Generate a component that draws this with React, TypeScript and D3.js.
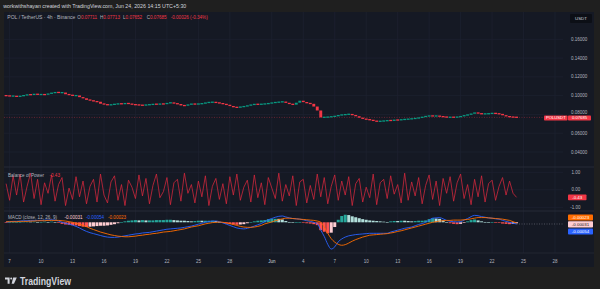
import React from 'react';
import * as d3 from 'd3';

const W = 600;
const H = 289;
const START = Date.UTC(2026, 4, 6, 16);
const STEP_MS = 8 * 3600 * 1000;

const firstOpen = 0.1001;
const closes = [
  0.0999, 0.0995, 0.0996, 0.0989, 0.0997, 0.1003, 0.1012, 0.1009, 0.1018, 0.1011,
  0.1013, 0.1010, 0.1023, 0.1028, 0.1037, 0.1031, 0.1033, 0.1015, 0.1008, 0.0999,
  0.1002, 0.0984, 0.0972, 0.0955, 0.0951, 0.0938, 0.0935, 0.0914, 0.0908, 0.0899,
  0.0906, 0.0909, 0.0915, 0.0912, 0.0919, 0.0914, 0.0905, 0.0903, 0.0899, 0.0897,
  0.0903, 0.0904, 0.0910, 0.0908, 0.0912, 0.0911, 0.0921, 0.0926, 0.0917, 0.0911,
  0.0896, 0.0893, 0.0907, 0.0912, 0.0909, 0.0913, 0.0916, 0.0926, 0.0929, 0.0931,
  0.0925, 0.0920, 0.0910, 0.0903, 0.0889, 0.0877, 0.0874, 0.0882, 0.0885, 0.0896,
  0.0903, 0.0910, 0.0906, 0.0911, 0.0912, 0.0919, 0.0924, 0.0930, 0.0931, 0.0937,
  0.0923, 0.0911, 0.0904, 0.0925, 0.0946, 0.0931, 0.0920, 0.0913, 0.0884, 0.0842,
  0.0768, 0.0771, 0.0772, 0.0778, 0.0781, 0.0793, 0.0796, 0.0800, 0.0803, 0.0794,
  0.0781, 0.0765, 0.0753, 0.0746, 0.0742, 0.0731, 0.0725, 0.0729, 0.0731, 0.0736,
  0.0735, 0.0741, 0.0740, 0.0746, 0.0747, 0.0752, 0.0754, 0.0760, 0.0764, 0.0775,
  0.0781, 0.0786, 0.0782, 0.0785, 0.0778, 0.0775, 0.0769, 0.0771, 0.0770, 0.0773,
  0.0781, 0.0791, 0.0797, 0.0809, 0.0820, 0.0810, 0.0805, 0.0807, 0.0808, 0.0814,
  0.0808, 0.0806, 0.0791, 0.0780, 0.0773, 0.0771, 0.07685,
];

const bop = [
  0.35, -0.6, 0.8, -0.3, 0.9, -0.7, 0.2, 0.95, -0.5, 0.6,
  -0.85, 0.4, -0.2, 0.85, -0.65, 0.3, 0.7, -0.9, 0.1, -0.55,
  0.75, -0.4, 0.5, -0.8, 0.2, 0.6, -0.7, 0.9, -0.3, -0.75,
  0.45, 0.8, -0.6, 0.3, -0.9, 0.55, 0.15, -0.5, 0.85, -0.35,
  0.65, -0.8, 0.25, 0.9, -0.45, -0.1, 0.7, -0.85, 0.4, 0.6,
  -0.65, 0.95, -0.2, 0.3, -0.75, 0.5, -0.4, 0.8, -0.9, 0.2,
  0.65, -0.55, 0.35, -0.8, 0.75, -0.3, 0.9, -0.6, 0.15, 0.55,
  -0.7, 0.85, -0.45, 0.4, -0.85, 0.7, 0.1, -0.5, 0.95, -0.65,
  0.3, -0.35, 0.8, -0.9, 0.45, 0.6, -0.75, 0.25, -0.55, 0.9,
  -0.4, 0.7, -0.8, 0.2, 0.85, -0.6, 0.5, -0.3, 0.75, -0.9,
  0.35, 0.65, -0.7, 0.15, -0.45, 0.9, -0.85, 0.4, 0.6, -0.5,
  0.8, -0.25, 0.3, -0.75, 0.95, -0.6, 0.45, -0.35, 0.7, -0.8,
  0.25, 0.85, -0.55, 0.5, -0.9, 0.65, -0.2, 0.75, -0.65, 0.4,
  0.9, -0.5, 0.3, -0.85, 0.6, -0.4, 0.8, -0.7, 0.35, 0.55,
  -0.6, 0.2, 0.7, -0.3, 0.5, -0.2, -0.43,
];

const macdLine = [
  0.0001, 0.0002, 0.0003, 0.0003, 0.0004, 0.0005, 0.0005, 0.0006, 0.0006, 0.0006,
  0.0006, 0.0007, 0.0007, 0.0008, 0.0007, 0.0004, 0.0000, -0.0003, -0.0006, -0.0009,
  -0.0013, -0.0018, -0.0024, -0.0029, -0.0033, -0.0036, -0.0039, -0.0042, -0.0045, -0.0047,
  -0.0048, -0.0048, -0.0047, -0.0045, -0.0043, -0.0041, -0.0039, -0.0037, -0.0036, -0.0034,
  -0.0033, -0.0032, -0.0030, -0.0028, -0.0026, -0.0024, -0.0022, -0.0021, -0.0020, -0.0019,
  -0.0018, -0.0016, -0.0014, -0.0012, -0.0009, -0.0006, -0.0003, 0.0000, 0.0002, 0.0004,
  0.0004, 0.0002, -0.0002, -0.0006, -0.0010, -0.0014, -0.0018, -0.0020, -0.0021, -0.0019,
  -0.0016, -0.0012, -0.0008, -0.0004, 0.0002, 0.0008, 0.0012, 0.0016, 0.0019, 0.0020,
  0.0017, 0.0014, 0.0012, 0.0011, 0.0010, 0.0008, 0.0005, 0.0003, 0.0000, -0.0005,
  -0.0025, -0.0045, -0.0070, -0.0085, -0.0078, -0.0062, -0.0053, -0.0047, -0.0043, -0.0041,
  -0.0039, -0.0038, -0.0037, -0.0036, -0.0035, -0.0035, -0.0035, -0.0035, -0.0035, -0.0035,
  -0.0031, -0.0028, -0.0025, -0.0022, -0.0019, -0.0017, -0.0015, -0.0011, -0.0007, -0.0004,
  0.0000, 0.0007, 0.0013, 0.0014, 0.0015, 0.0011, 0.0006, 0.0003, 0.0002, 0.0001,
  0.0002, 0.0007, 0.0012, 0.0018, 0.0022, 0.0021, 0.0018, 0.0016, 0.0014, 0.0013,
  0.0011, 0.0010, 0.0006, 0.0003, 0.0000, -0.0003, -0.00054,
];

const signalLine = [
  0.0002, 0.0002, 0.0002, 0.0002, 0.0003, 0.0003, 0.0003, 0.0004, 0.0004, 0.0005,
  0.0005, 0.0005, 0.0006, 0.0006, 0.0006, 0.0006, 0.0005, 0.0004, 0.0002, 0.0000,
  -0.0003, -0.0006, -0.0010, -0.0014, -0.0019, -0.0023, -0.0027, -0.0031, -0.0034, -0.0037,
  -0.0040, -0.0042, -0.0044, -0.0045, -0.0046, -0.0046, -0.0045, -0.0044, -0.0042, -0.0041,
  -0.0039, -0.0038, -0.0036, -0.0035, -0.0033, -0.0031, -0.0030, -0.0029, -0.0027, -0.0025,
  -0.0023, -0.0021, -0.0018, -0.0015, -0.0013, -0.0011, -0.0008, -0.0005, -0.0003, -0.0001,
  0.0000, 0.0001, 0.0000, -0.0002, -0.0004, -0.0007, -0.0010, -0.0013, -0.0015, -0.0016,
  -0.0016, -0.0015, -0.0013, -0.0010, -0.0005, -0.0002, 0.0001, 0.0005, 0.0008, 0.0011,
  0.0013, 0.0013, 0.0012, 0.0011, 0.0010, 0.0009, 0.0008, 0.0007, 0.0006, 0.0004,
  0.0000, -0.0015, -0.0035, -0.0052, -0.0063, -0.0070, -0.0073, -0.0071, -0.0066, -0.0060,
  -0.0055, -0.0051, -0.0047, -0.0044, -0.0041, -0.0040, -0.0039, -0.0038, -0.0037, -0.0036,
  -0.0034, -0.0032, -0.0029, -0.0027, -0.0024, -0.0021, -0.0018, -0.0015, -0.0012, -0.0009,
  -0.0006, -0.0003, 0.0000, 0.0002, 0.0004, 0.0005, 0.0006, 0.0006, 0.0007, 0.0007,
  0.0007, 0.0008, 0.0009, 0.0011, 0.0013, 0.0015, 0.0015, 0.0015, 0.0014, 0.0013,
  0.0012, 0.0011, 0.0010, 0.0008, 0.0006, 0.0002, -0.00023,
];

const priceTicks = [0.04, 0.06, 0.08, 0.1, 0.12, 0.14, 0.16];
const bopTicks = [1, 0, -1];
const timeTickDates = [
  [4, 7], [4, 10], [4, 13], [4, 16], [4, 19], [4, 22], [4, 25], [4, 28],
  [5, 1], [5, 4], [5, 7], [5, 10], [5, 13], [5, 16], [5, 19], [5, 22], [5, 25], [5, 28],
];
const timeTickLabels = [
  '7', '10', '13', '16', '19', '22', '25', '28',
  'Jun', '4', '7', '10', '13', '16', '19', '22', '25', '28',
];

const UP = '#089981';
const DOWN = '#f23645';
const FONT = "'Liberation Sans', Arial, sans-serif";

export default function App() {
  const FL = 4, FR = 594, FT = 12, FB = 267;
  const PR = 563;
  const P1B = 167, P2B = 211, P3B = 253;

  const x = d3.scaleUtc()
    .domain([new Date(Date.UTC(2026, 4, 7)), new Date(Date.UTC(2026, 5, 28))])
    .range([9.6, 555]);
  const yP = d3.scaleLinear().domain([0.04, 0.16]).range([152, 39.3]);
  const yB = d3.scaleLinear().domain([-1, 1]).range([207.3, 172.3]);
  const yM = d3.scaleLinear().domain([-0.0095, 0.003]).range([252.2, 212.85]);

  const t = (i: number) => new Date(START + i * STEP_MS);
  const candles = closes.map((c, i) => ({ t: t(i), o: i === 0 ? firstOpen : closes[i - 1], c }));
  const hist = macdLine.map((m, i) => m - signalLine[i]);
  const histColor = (i: number) => {
    const h = hist[i];
    const p = i > 0 ? hist[i - 1] : 0;
    if (h >= 0) return h >= p ? '#26a69a' : '#b2dfdb';
    return h < p ? '#ff5252' : '#ffcdd2';
  };

  const bopPath = d3.line<number>().x((_, i) => x(t(i))).y((d) => yB(d))(bop) || '';
  const macdPath = d3.line<number>().x((_, i) => x(t(i))).y((d) => yM(d)).curve(d3.curveMonotoneX)(macdLine) || '';
  const sigPath = d3.line<number>().x((_, i) => x(t(i))).y((d) => yM(d)).curve(d3.curveMonotoneX)(signalLine) || '';

  const last = closes[closes.length - 1];
  const lastX = x(t(closes.length - 1));
  const tickXs = timeTickDates.map(([m, d]) => x(new Date(Date.UTC(2026, m, d))));
  const boxTop = yP(last) - 2.0;
  const boxH = 5.2;
  const priceLabelY = (p: number) => {
    const base = yP(p) + 1.6;
    const dy = yP(p) - yP(last);
    if (Math.abs(dy) < 6) return Math.min(base, boxTop - 1.3);
    return base;
  };

  return (
    <div style={{ position: 'absolute', left: 0, top: 0, width: W, height: H }}>
      <svg width={W} height={H} style={{ display: 'block', fontFamily: FONT }}>
        <defs>
          <clipPath id="cP"><rect x={FL} y={FT} width={PR - FL} height={P1B - FT} /></clipPath>
          <clipPath id="cB"><rect x={FL} y={P1B} width={PR - FL} height={P2B - P1B} /></clipPath>
          <clipPath id="cM"><rect x={FL} y={P2B} width={PR - FL} height={P3B - P2B} /></clipPath>
        </defs>
        <rect x={0} y={0} width={W} height={H} fill="#1f1f1f" />
        <text x={3.3} y={7.6} fontSize={5.2} fill="#d1d4dc" textLength={183} lengthAdjust="spacingAndGlyphs">
          workwithshayan created with TradingView.com, Jun 24, 2026 14:15 UTC+5:30
        </text>
        <rect x={FL} y={FT} width={FR - FL} height={FB - FT} fill="#151924" />

        {/* grid */}
        {tickXs.map((tx, i) => (
          <line key={'vg' + i} x1={tx} x2={tx} y1={FT} y2={P3B} stroke="#1d2130" strokeWidth={0.8} />
        ))}
        {priceTicks.map((p) => (
          <line key={'hg' + p} x1={FL} x2={PR} y1={yP(p)} y2={yP(p)} stroke="#1d2130" strokeWidth={0.8} />
        ))}
        {bopTicks.map((b) => (
          <line key={'bg' + b} x1={FL} x2={PR} y1={yB(b)} y2={yB(b)} stroke="#1d2130" strokeWidth={0.8} />
        ))}
        <line x1={FL} x2={FR} y1={P1B} y2={P1B} stroke="#262a36" strokeWidth={1} />
        <line x1={FL} x2={FR} y1={P2B} y2={P2B} stroke="#262a36" strokeWidth={1} />
        <line x1={FL} x2={FR} y1={P3B} y2={P3B} stroke="#262a36" strokeWidth={0.8} />

        {/* price pane */}
        <g clipPath="url(#cP)">
          <line x1={FL} x2={PR} y1={yP(last)} y2={yP(last)} stroke={DOWN} strokeOpacity={0.6} strokeWidth={0.6} strokeDasharray="1 1.5" />
          {candles.map((d, i) => {
            const top = yP(Math.max(d.o, d.c));
            const bot = yP(Math.min(d.o, d.c));
            const h = Math.max(1.3, bot - top);
            const mid = (top + bot) / 2;
            return (
              <rect key={i} x={x(d.t) - 1.45} y={mid - h / 2} width={2.9} height={h}
                fill={d.c >= d.o ? UP : DOWN} />
            );
          })}
        </g>

        {/* BOP pane */}
        <g clipPath="url(#cB)">
          <path d={bopPath} fill="none" stroke="#d9283e" strokeWidth={0.75} />
        </g>

        {/* MACD pane */}
        <g clipPath="url(#cM)">
          {hist.map((h, i) => {
            const y0 = yM(0);
            const y1 = yM(h);
            return (
              <rect key={i} x={x(t(i)) - 1.5} y={Math.min(y0, y1)} width={3.0} height={Math.max(0.6, Math.abs(y1 - y0))}
                fill={histColor(i)} />
            );
          })}
          <line x1={lastX} x2={PR} y1={yM(macdLine[macdLine.length - 1])} y2={yM(macdLine[macdLine.length - 1])}
            stroke="#787b86" strokeWidth={0.6} strokeDasharray="1 1.5" />
          <path d={macdPath} fill="none" stroke="#2962ff" strokeWidth={0.9} />
          <path d={sigPath} fill="none" stroke="#ff6d00" strokeWidth={0.9} />
        </g>

        {/* legends */}
        <text y={19.2} fontSize={4.6}>
          <tspan x={7.3} fill="#b2b5be" textLength={68} lengthAdjust="spacingAndGlyphs">POL / TetherUS · 4h · Binance</tspan>
          <tspan x={77.3} fill="#b2b5be">O</tspan><tspan fill={DOWN}>0.07711</tspan>
          <tspan x={100} fill="#b2b5be">H</tspan><tspan fill={DOWN}>0.07713</tspan>
          <tspan x={123} fill="#b2b5be">L</tspan><tspan fill={DOWN}>0.07652</tspan>
          <tspan x={146.7} fill="#b2b5be">C</tspan><tspan fill={DOWN}>0.07685</tspan>
          <tspan x={170.7} fill={DOWN}>-0.00026 (-0.34%)</tspan>
        </text>
        <text y={176.6} fontSize={4.6}>
          <tspan x={8} fill="#b2b5be">Balance of Power</tspan>
          <tspan x={49.5} fill={DOWN}>-0.43</tspan>
        </text>
        <text y={219.3} fontSize={4.6}>
          <tspan x={8} fill="#b2b5be">MACD (close, 12, 26, 9)</tspan>
          <tspan x={64.5} fill="#ffcdd2">-0.00031</tspan>
          <tspan x={86} fill="#2962ff">-0.00054</tspan>
          <tspan x={108} fill="#ff6d00">-0.00023</tspan>
        </text>

        {/* price axis */}
        <rect x={570} y={14} width={22} height={9} rx={1} fill="#0c0f16" />
        <text x={581} y={20.3} fontSize={4.4} fill="#d1d4dc" textAnchor="middle">USDT</text>
        {priceTicks.map((p) => (
          <text key={'pt' + p} x={571} y={priceLabelY(p)} fontSize={4.5} fill="#b2b5be">{p.toFixed(5)}</text>
        ))}
        <rect x={544} y={boxTop} width={23.5} height={boxH} rx={0.8} fill={DOWN} />
        <rect x={568} y={boxTop} width={23} height={boxH} rx={0.8} fill={DOWN} />
        <text x={555.8} y={boxTop + 3.9} fontSize={4.2} fill="#ffffff" textAnchor="middle">POLUSDT</text>
        <text x={579.5} y={boxTop + 3.9} fontSize={4.2} fill="#ffffff" textAnchor="middle">{last.toFixed(5)}</text>

        {bopTicks.map((b) => (
          <text key={'bt' + b} x={b < 0 ? 570.2 : 571.5} y={yB(b) + 1.6} fontSize={4.5} fill="#b2b5be">{b.toFixed(2)}</text>
        ))}
        <rect x={568} y={yB(bop[bop.length - 1]) - 2.9} width={18.5} height={5.8} rx={0.8} fill={DOWN} />
        <text x={577.2} y={yB(bop[bop.length - 1]) + 1.6} fontSize={4.4} fill="#ffffff" textAnchor="middle">
          {bop[bop.length - 1].toFixed(2)}
        </text>

        <rect x={568} y={214.4} width={25} height={6.2} rx={0.8} fill="#ff6d00" />
        <text x={580.5} y={219.1} fontSize={4.4} fill="#ffffff" textAnchor="middle">{signalLine[signalLine.length - 1].toFixed(5)}</text>
        <rect x={568} y={221.3} width={25} height={6.2} rx={0.8} fill="#ffcdd2" />
        <text x={580.5} y={226} fontSize={4.4} fill="#131722" textAnchor="middle">{hist[hist.length - 1].toFixed(5)}</text>
        <rect x={568} y={228.4} width={25} height={6.2} rx={0.8} fill="#2962ff" />
        <text x={580.5} y={233.1} fontSize={4.4} fill="#ffffff" textAnchor="middle">{macdLine[macdLine.length - 1].toFixed(5)}</text>

        {/* time axis */}
        {tickXs.map((tx, i) => (
          <text key={'tl' + i} x={tx} y={262.6} fontSize={4.5} fill={timeTickLabels[i] === 'Jun' ? '#d1d4dc' : '#b2b5be'}
            textAnchor="middle">{timeTickLabels[i]}</text>
        ))}

        {/* logo */}
        <g fill="#d1d4dc">
          <path d="M5 277.5 h4.6 v6.2 h-2 v-4.2 h-2.6 z" />
          <circle cx={11.2} cy={278.5} r={1} />
          <path d="M13.2 277.5 h3.6 l-2.8 6.2 h-2.4 z" />
        </g>
        <text x={20} y={285.2} fontSize={10} fontWeight={600} fill="#d1d4dc" textLength={51} lengthAdjust="spacingAndGlyphs">TradingView</text>
      </svg>
    </div>
  );
}
